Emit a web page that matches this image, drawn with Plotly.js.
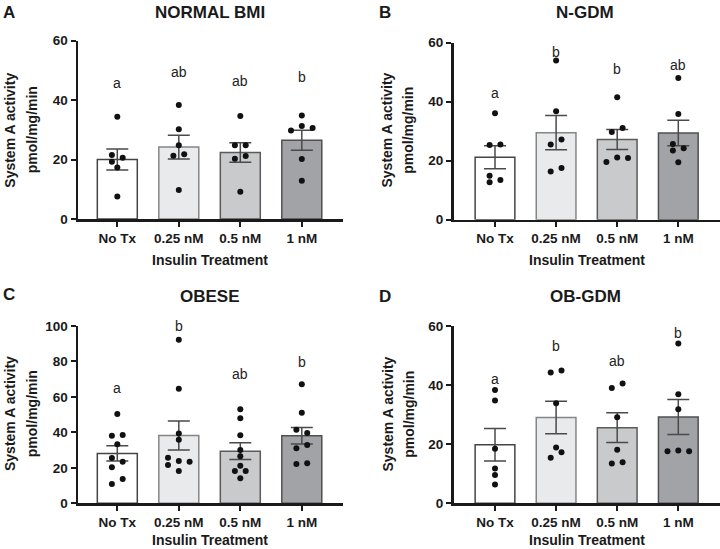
<!DOCTYPE html>
<html><head><meta charset="utf-8">
<script src="https://cdn.plot.ly/plotly-3.0.1.min.js"></script>
<style>html,body{margin:0;padding:0;background:#fff}#chart{width:720px;height:549px}</style>
</head><body><div id="chart"></div>
<script>
// ---------- DATA ----------
const categories = ['No Tx', '0.25 nM', '0.5 nM', '1 nM'];
const panelTitles = ['NORMAL BMI', 'N-GDM', 'OBESE', 'OB-GDM'];
const panelLetters = ['A', 'B', 'C', 'D'];
const xAxisTitle = 'Insulin Treatment';
const yTitleLine1 = 'System A activity';
const yTitleLine2 = 'pmol/mg/min';

// NORMAL BMI
const normalMean = [20.0, 24.2, 22.4, 26.5];
const normalSem = [3.55, 4.0, 3.3, 3.4];
const normalNoTx = [34.4, 21.5, 20.6, 19.3, 17.3, 7.6];
const normal025 = [38.4, 30.2, 24.8, 21.3, 21.8, 9.8];
const normal05 = [34.7, 24.8, 24.8, 20.3, 21.2, 9.2];
const normal1 = [34.8, 29.8, 31.3, 30.6, 20.2, 12.9];
const normalSig = ['a', 'ab', 'ab', 'b'];
const normalSigY = [45.9, 49.6, 46.4, 47.8];

// N-GDM
const ngdmMean = [21.2, 29.5, 27.2, 29.4];
const ngdmSem = [3.9, 5.8, 3.4, 4.3];
const ngdmNoTx = [36.1, 25.3, 25.5, 14.9, 13.5, 12.7];
const ngdm025 = [54.0, 36.8, 25.5, 27.2, 16.3, 17.5];
const ngdm05 = [41.5, 29.7, 31.1, 19.6, 21.1, 20.9];
const ngdm1 = [48.0, 35.8, 25.7, 24.2, 23.5, 19.5];
const ngdmSig = ['a', 'b', 'b', 'ab'];
const ngdmSigY = [43.1, 57.0, 51.0, 52.4];

// OBESE
const obeseMean = [28.1, 38.2, 29.4, 38.1];
const obeseSem = [4.3, 8.15, 4.7, 4.7];
const obeseNoTx = [50.4, 38.1, 38.5, 33.3, 25.5, 23.5, 20.3, 13.7, 10.9];
const obese025 = [92.3, 64.6, 39.3, 35.9, 25.7, 23.9, 23.5, 21.6, 18.2];
const obese05 = [53.0, 47.9, 38.4, 30.1, 26.5, 21.2, 18.2, 18.2, 14.1];
const obese1 = [67.1, 51.1, 41.5, 39.6, 32.9, 31.0, 22.6, 22.2];
const obeseSig = ['a', 'b', 'ab', 'b'];
const obeseSigY = [65.2, 100.2, 73.1, 79.5];

// OB-GDM
const obgdmMean = [19.8, 29.0, 25.6, 29.2];
const obgdmSem = [5.5, 5.5, 5.05, 5.95];
const obgdmNoTx = [38.3, 34.8, 18.5, 11.8, 9.6, 6.4];
const obgdm025 = [44.3, 44.9, 33.9, 18.9, 15.4, 17.3];
const obgdm05 = [39.0, 40.5, 29.1, 18.1, 13.5, 13.9];
const obgdm1 = [54.1, 36.9, 31.8, 17.6, 17.9, 17.6];
const obgdmSig = ['a', 'b', 'ab', 'b'];
const obgdmSigY = [42.1, 53.3, 48.2, 57.5];

// ---------- LAYOUT / STYLE (dot column slots for the scatter spread) ----------
const normalSlots = [[0,-1,1,-1,0,0],[0,0,0,-1,1,0],[0,-1,1,-1,1,0],[0,-2,0,2,0,0]];
const ngdmSlots = [[0,-1,1,-1,1,-1],[0,0,-1,1,-1,1],[0,-1,1,-2,0,2],[0,0,-1,1,-1,0]];
const obeseSlots = [[0,-1,1,0,-1,1,-1,1,-1],[0,0,0,0,-2,0,2,-2,0],[0,0,0,0,0,0,-1,1,0],[0,0,-1,1,1,-1,1,-1]];
const obgdmSlots = [[0,0,0,0,0,0],[-1,1,0,0,-1,1],[-1,1,0,0,-1,1],[0,0,0,-2,0,2]];

const W = 720, H = 549;
const FONT = 'Liberation Sans, Arial, Helvetica, sans-serif';
const barFill = ['#ffffff', '#e9eaeb', '#c9cacc', '#a2a3a6'];
const barLine = ['#444444', '#858585', '#5a5a5a', '#505050'];

const panels = [
  {mean: normalMean, sem: normalSem, pts: [normalNoTx, normal025, normal05, normal1], slots: normalSlots,
   sig: normalSig, sigY: normalSigY, ymax: 60, dtick: 20,
   x0: 78, x1: 343.3, yt: 40.7, yb: 219, cat0: 117.3, step: 61.5,
   titleX: 210, titleY: 13, letterX: 9, letterY: 12, yl1: 9.7, yl2: 32.2, ylY: 130, xtY: 259.5, xtX: 210, xtBottom: false},
  {mean: ngdmMean, sem: ngdmSem, pts: [ngdmNoTx, ngdm025, ngdm05, ngdm1], slots: ngdmSlots,
   sig: ngdmSig, sigY: ngdmSigY, ymax: 60, dtick: 20,
   x0: 453.5, x1: 720, yt: 42.7, yb: 219.7, cat0: 495, step: 61.1,
   titleX: 585, titleY: 13, letterX: 384.5, letterY: 12, yl1: 387, yl2: 408.3, ylY: 130.5, xtY: 260, xtX: 586.7, xtBottom: false},
  {mean: obeseMean, sem: obeseSem, pts: [obeseNoTx, obese025, obese05, obese1], slots: obeseSlots,
   sig: obeseSig, sigY: obeseSigY, ymax: 100, dtick: 20,
   x0: 78, x1: 343.3, yt: 326, yb: 503.3, cat0: 117.3, step: 61.5,
   titleX: 210, titleY: 296, letterX: 9, letterY: 294.5, yl1: 10, yl2: 32.2, ylY: 414, xtY: 549, xtX: 210, xtBottom: true},
  {mean: obgdmMean, sem: obgdmSem, pts: [obgdmNoTx, obgdm025, obgdm05, obgdm1], slots: obgdmSlots,
   sig: obgdmSig, sigY: obgdmSigY, ymax: 60, dtick: 20,
   x0: 453.5, x1: 720, yt: 326, yb: 503.3, cat0: 495, step: 61.1,
   titleX: 585, titleY: 296, letterX: 384.5, letterY: 296, yl1: 387, yl2: 408.3, ylY: 414.5, xtY: 549, xtX: 586.7, xtBottom: true}
];

const traces = [];
const annotations = [];
const layout = {
  width: W, height: H, margin: {l: 0, r: 0, t: 0, b: 0},
  paper_bgcolor: '#ffffff', plot_bgcolor: 'rgba(0,0,0,0)',
  showlegend: false, hovermode: false,
  font: {family: FONT, color: '#1a1a1a'},
  annotations: annotations
};

panels.forEach((p, k) => {
  const n = k + 1;
  const xs = n === 1 ? '' : String(n);
  const xref = 'x' + xs, yref = 'y' + xs;
  const idx = categories.map((c, i) => i);
  const jit = 5.4 / p.step;
  const pxPerUnit = (p.yb - p.yt) / p.ymax;

  traces.push({
    type: 'bar', x: idx, y: p.mean, xaxis: xref, yaxis: yref, width: 0.65,
    marker: {color: barFill, line: {color: barLine, width: 1.5}},
    error_y: {type: 'data', array: p.sem, visible: true, color: '#4a4a4a', thickness: 1.5, width: 11}
  });

  const dx = [], dy = [];
  p.pts.forEach((grp, i) => {
    grp.forEach((v, j) => { dx.push(i + p.slots[i][j] * jit); dy.push(v); });
  });
  traces.push({
    type: 'scatter', mode: 'markers', x: dx, y: dy, xaxis: xref, yaxis: yref, cliponaxis: false,
    marker: {color: '#111111', size: 6, line: {width: 0}}
  });

  // significance letters, placed in data coordinates (clamped into the axis range, shifted by the overflow)
  p.sig.forEach((s, i) => {
    const yv = Math.min(p.sigY[i], p.ymax);
    annotations.push({
      text: s, xref: xref, yref: yref, x: idx[i], y: yv,
      yshift: (p.sigY[i] - yv) * pxPerUnit,
      xanchor: 'center', yanchor: 'middle', showarrow: false,
      font: {family: FONT, size: 14, color: '#222222'}
    });
  });

  const xr = [-(p.cat0 - p.x0) / p.step, (p.x1 - p.cat0) / p.step];
  layout['xaxis' + xs] = {
    domain: [p.x0 / W, p.x1 / W], anchor: yref, range: xr,
    tickmode: 'array', tickvals: idx, ticktext: categories,
    showgrid: false, zeroline: false, showline: true, linecolor: '#1a1a1a', linewidth: 2.5,
    ticks: 'outside', ticklen: 5, tickwidth: 2, tickcolor: '#1a1a1a',
    tickfont: {family: FONT, size: 13.5, weight: 700, color: '#1a1a1a'}, fixedrange: true
  };
  layout['yaxis' + xs] = {
    domain: [1 - p.yb / H, 1 - p.yt / H], anchor: xref, range: [0, p.ymax],
    tickmode: 'linear', tick0: 0, dtick: p.dtick,
    showgrid: false, zeroline: false, showline: true, linecolor: '#1a1a1a', linewidth: 2.5,
    ticks: 'outside', ticklen: 5, tickwidth: 2, tickcolor: '#1a1a1a',
    tickfont: {family: FONT, size: 13.5, weight: 700, color: '#1a1a1a'}, fixedrange: true
  };

  const ann = (text, x, y, size, weight, angle, yanchor) => annotations.push({
    text: text, xref: 'paper', yref: 'paper', x: x / W, y: 1 - y / H,
    xanchor: 'center', yanchor: yanchor || 'middle', showarrow: false, textangle: angle || 0,
    borderpad: 0,
    font: {family: FONT, size: size, weight: weight, color: '#1a1a1a'}
  });
  ann(panelTitles[k], p.titleX, p.titleY, 17, 700);
  ann(panelLetters[k], p.letterX, p.letterY, 17, 700);
  ann(yTitleLine1, p.yl1, p.ylY, 14, 700, -90);
  ann(yTitleLine2, p.yl2, p.ylY, 14, 700, -90);
  ann(xAxisTitle, p.xtX, p.xtY, 14, 700, 0, p.xtBottom ? 'bottom' : 'middle');
});

Plotly.newPlot('chart', traces, layout, {staticPlot: true, displayModeBar: false});
</script></body></html>
